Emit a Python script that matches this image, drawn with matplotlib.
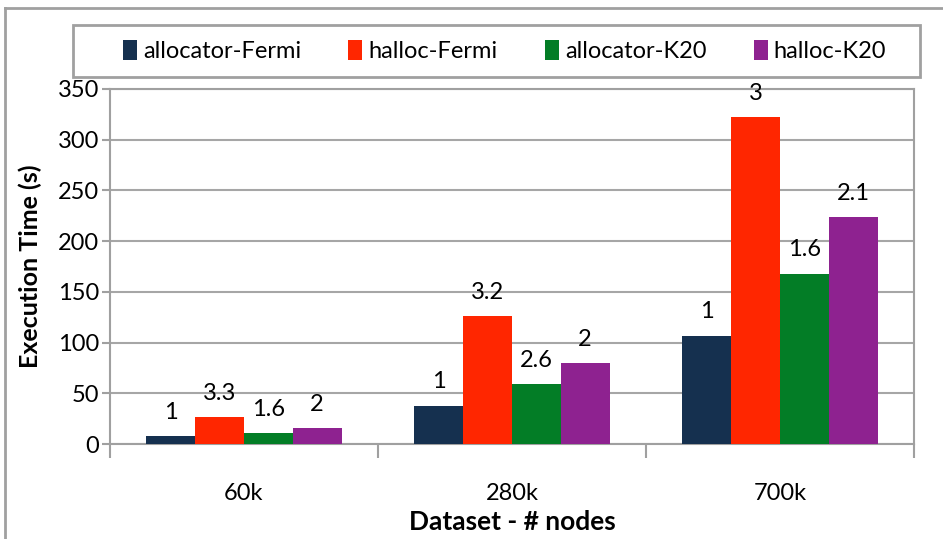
import matplotlib
matplotlib.use("Agg")
import matplotlib.pyplot as plt
import numpy as np
from matplotlib.lines import Line2D
from matplotlib.patches import Rectangle

categories = ["60k", "280k", "700k"]
series_names = ["allocator-Fermi", "halloc-Fermi", "allocator-K20", "halloc-K20"]
allocator_fermi = [8, 38, 107]
halloc_fermi = [27, 126, 322]
allocator_k20 = [11, 59, 168]
halloc_k20 = [16, 80, 224]
label_allocator_fermi = ["1", "1", "1"]
label_halloc_fermi = ["3.3", "3.2", "3"]
label_allocator_k20 = ["1.6", "2.6", "1.6"]
label_halloc_k20 = ["2", "2", "2.1"]
colors = ["#15304f", "#ff2600", "#037d26", "#8e2290"]
yticks = [0, 50, 100, 150, 200, 250, 300, 350]

series = [allocator_fermi, halloc_fermi, allocator_k20, halloc_k20]
labels = [label_allocator_fermi, label_halloc_fermi, label_allocator_k20, label_halloc_k20]

plt.rcParams['font.family'] = ['Lato', 'DejaVu Sans']

fig = plt.figure(figsize=(9.43, 5.39), dpi=100)
ax = fig.add_axes([0.1166, 0.176, 0.8526, 0.659])

x = np.arange(len(categories))
bw = 0.182
for i, (vals, lab, c, name) in enumerate(zip(series, labels, colors, series_names)):
    pos = x - 1.5 * bw + i * bw
    ax.bar(pos, vals, width=bw, color=c, label=name, zorder=3)
    for p, v, t in zip(pos, vals, lab):
        ax.text(p, v + 13, t, ha='center', va='bottom', fontsize=17, zorder=4)

ax.set_xlim(-0.5, len(categories) - 0.5)
ax.set_ylim(0, 350)
ax.set_yticks(yticks)
ax.tick_params(axis='y', labelsize=17, length=6, width=1.5, color='#a0a0a0', pad=2)
ax.set_xticks(np.arange(-0.5, len(categories), 1.0))
ax.set_xticklabels([])
ax.set_xticks(x, minor=True)
ax.set_xticklabels(categories, minor=True, fontsize=17)
ax.tick_params(axis='x', which='major', length=10, width=1.5, color='#a0a0a0')
ax.tick_params(axis='x', which='minor', length=0, pad=28)
ax.grid(axis='y', color='#a6a6a6', linewidth=1.5, zorder=0)
for s in ax.spines.values():
    s.set_color('#a0a0a0')
    s.set_linewidth(1.5)

ax.set_ylabel("Execution Time (s)", fontsize=18, fontweight='bold')
ax.yaxis.set_label_coords(-0.085, 0.5)
ax.set_xlabel("Dataset - # nodes", fontsize=19, fontweight='bold')
ax.xaxis.set_label_coords(0.5, -0.185)

fig.add_artist(Rectangle((73 / 943, 1 - 77 / 539), (920 - 73) / 943, 52 / 539,
                         transform=fig.transFigure, fill=False,
                         edgecolor='#a0a0a0', linewidth=2))
leg = fig.legend(loc='center', bbox_to_anchor=(0.535, 0.905),
                 ncol=4, fontsize=17, frameon=False,
                 handlelength=0.6, handleheight=0.9, handletextpad=0.25,
                 columnspacing=2.0, borderaxespad=0, borderpad=0)

fig.add_artist(Line2D([0.005, 0.005], [0.0, 0.985], color='#a0a0a0', lw=2, transform=fig.transFigure))
fig.add_artist(Line2D([0.005, 1.0], [0.985, 0.985], color='#a0a0a0', lw=2, transform=fig.transFigure))

fig.savefig("out.png", dpi=100)
